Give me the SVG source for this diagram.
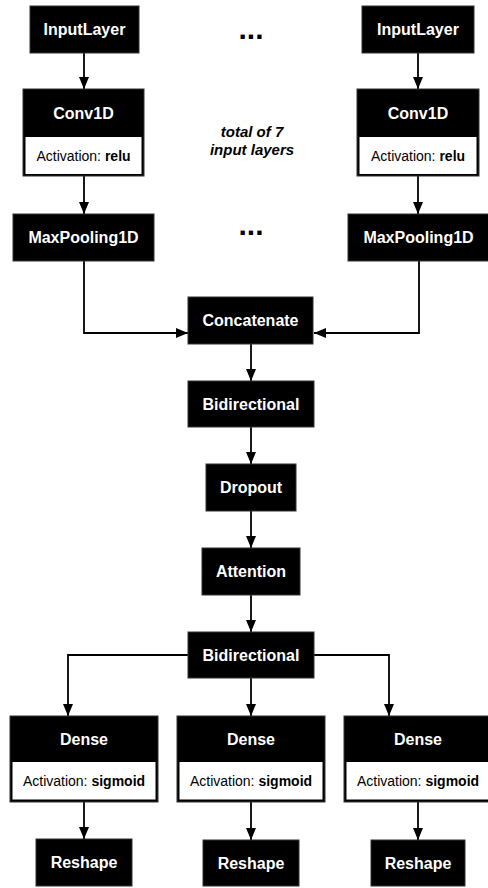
<svg xmlns="http://www.w3.org/2000/svg" width="488" height="888" viewBox="0 0 488 888">
<style>
.box{fill:#000;stroke:#333;stroke-width:1}
.sub{fill:#fff}
.lbl{font-family:"Liberation Sans",Arial,sans-serif;font-size:16px;font-weight:bold;fill:#fff;text-anchor:middle}
.act{font-family:"Liberation Sans",Arial,sans-serif;font-size:14px;fill:#000;text-anchor:middle}
.act tspan.b{font-weight:bold}
.note{font-family:"Liberation Sans",Arial,sans-serif;font-size:15px;font-weight:bold;font-style:italic;fill:#000;text-anchor:middle}
.dots{font-family:"Liberation Sans",Arial,sans-serif;font-size:30px;font-weight:bold;fill:#000;text-anchor:middle}
.edge{fill:none;stroke:#000;stroke-width:1.8}
</style>
<defs>
<marker id="arr" markerUnits="userSpaceOnUse" markerWidth="12" markerHeight="12" viewBox="0 0 12 10" refX="12" refY="5" orient="auto">
<path d="M0,0 L12,5 L0,10 Z" fill="#000"/>
</marker>
</defs>
<rect width="488" height="888" fill="#fff"/>

<g id="connectors">
<line class="edge" x1="84" y1="53" x2="84" y2="89" marker-end="url(#arr)"/>
<line class="edge" x1="84" y1="176" x2="84" y2="214" marker-end="url(#arr)"/>
<line class="edge" x1="418" y1="53" x2="418" y2="89" marker-end="url(#arr)"/>
<line class="edge" x1="418" y1="176" x2="418" y2="214" marker-end="url(#arr)"/>
<polyline class="edge" points="84,261 84,333 188,333" marker-end="url(#arr)"/>
<polyline class="edge" points="419,261 419,333 314,333" marker-end="url(#arr)"/>
<line class="edge" x1="251" y1="344" x2="251" y2="381" marker-end="url(#arr)"/>
<line class="edge" x1="251" y1="427" x2="251" y2="464" marker-end="url(#arr)"/>
<line class="edge" x1="251" y1="511" x2="251" y2="548" marker-end="url(#arr)"/>
<line class="edge" x1="251" y1="595" x2="251" y2="632" marker-end="url(#arr)"/>
<line class="edge" x1="251" y1="678" x2="251" y2="716" marker-end="url(#arr)"/>
<polyline class="edge" points="188,655 68,655 68,716" marker-end="url(#arr)"/>
<polyline class="edge" points="314,655 389,655 389,716" marker-end="url(#arr)"/>
<line class="edge" x1="84" y1="802" x2="84" y2="839" marker-end="url(#arr)"/>
<line class="edge" x1="251" y1="802" x2="251" y2="840" marker-end="url(#arr)"/>
<line class="edge" x1="418" y1="802" x2="418" y2="840" marker-end="url(#arr)"/>
</g>

<g id="input-left">
<rect class="box" x="30" y="6" width="109" height="47"/>
<text class="lbl" x="84.5" y="35">InputLayer</text>
</g>
<g id="input-right">
<rect class="box" x="362" y="6" width="112" height="47"/>
<text class="lbl" x="418" y="35">InputLayer</text>
</g>
<g id="dots-top"><text class="dots" x="251" y="38.5">...</text></g>

<g id="conv-left">
<rect class="box" x="23" y="89" width="121" height="87"/>
<rect class="sub" x="25.5" y="137" width="116" height="37"/>
<text class="lbl" x="83.5" y="118.5">Conv1D</text>
<text class="act" x="83.5" y="160.5">Activation: <tspan class="b">relu</tspan></text>
</g>
<g id="conv-right">
<rect class="box" x="357" y="89" width="122" height="87"/>
<rect class="sub" x="359.5" y="137" width="117" height="37"/>
<text class="lbl" x="418" y="118.5">Conv1D</text>
<text class="act" x="418" y="160.5">Activation: <tspan class="b">relu</tspan></text>
</g>
<g id="note"><text class="note" x="252" y="137">total of 7</text><text class="note" x="252" y="155">input layers</text></g>

<g id="pool-left">
<rect class="box" x="13" y="214" width="141" height="47"/>
<text class="lbl" x="83.5" y="243">MaxPooling1D</text>
</g>
<g id="pool-right">
<rect class="box" x="348" y="214" width="142" height="47"/>
<text class="lbl" x="418.5" y="243">MaxPooling1D</text>
</g>
<g id="dots-mid"><text class="dots" x="251" y="235">...</text></g>

<g id="concatenate">
<rect class="box" x="188" y="297" width="125" height="47"/>
<text class="lbl" x="250.5" y="326">Concatenate</text>
</g>
<g id="bidirectional1">
<rect class="box" x="188" y="381" width="126" height="46"/>
<text class="lbl" x="251" y="409.5">Bidirectional</text>
</g>
<g id="dropout">
<rect class="box" x="206" y="464" width="90" height="47"/>
<text class="lbl" x="251" y="493">Dropout</text>
</g>
<g id="attention">
<rect class="box" x="202" y="548" width="98" height="47"/>
<text class="lbl" x="251" y="577">Attention</text>
</g>
<g id="bidirectional2">
<rect class="box" x="188" y="632" width="126" height="46"/>
<text class="lbl" x="251" y="660.5">Bidirectional</text>
</g>

<g id="dense-left">
<rect class="box" x="10" y="716" width="148" height="86"/>
<rect class="sub" x="12.5" y="762" width="143" height="37.5"/>
<text class="lbl" x="84" y="744.5">Dense</text>
<text class="act" x="84" y="786">Activation: <tspan class="b">sigmoid</tspan></text>
</g>
<g id="dense-mid">
<rect class="box" x="177" y="716" width="148" height="86"/>
<rect class="sub" x="179.5" y="762" width="143" height="37.5"/>
<text class="lbl" x="251" y="744.5">Dense</text>
<text class="act" x="251" y="786">Activation: <tspan class="b">sigmoid</tspan></text>
</g>
<g id="dense-right">
<rect class="box" x="344" y="716" width="148" height="86"/>
<rect class="sub" x="346.5" y="762" width="143" height="37.5"/>
<text class="lbl" x="418" y="744.5">Dense</text>
<text class="act" x="418" y="786">Activation: <tspan class="b">sigmoid</tspan></text>
</g>

<g id="reshape-left">
<rect class="box" x="36" y="839" width="96" height="47"/>
<text class="lbl" x="84" y="868">Reshape</text>
</g>
<g id="reshape-mid">
<rect class="box" x="203" y="840" width="96" height="46"/>
<text class="lbl" x="251" y="868.5">Reshape</text>
</g>
<g id="reshape-right">
<rect class="box" x="371" y="840" width="94" height="46"/>
<text class="lbl" x="418" y="868.5">Reshape</text>
</g>
</svg>
